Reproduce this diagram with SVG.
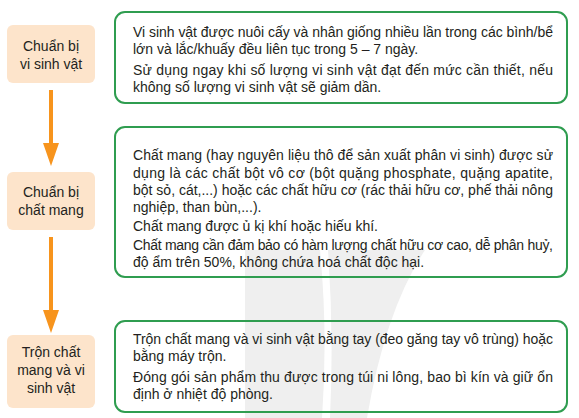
<svg xmlns="http://www.w3.org/2000/svg" width="579" height="418" viewBox="0 0 579 418">
<defs>
<style>
.step{fill:#fde4cb;}
.stept{font-family:"Liberation Sans",Arial,sans-serif;font-size:14px;fill:#231f20;text-anchor:middle;}
.card{fill:none;stroke:#2f9d50;stroke-width:2;}
.body{font-family:"Liberation Sans",Arial,sans-serif;font-size:14px;fill:#231f20;}
.arr{stroke:#f7941d;stroke-width:4;fill:none;}
.head{fill:#f7941d;}
.wm{fill:#efefef;}
</style>
</defs>
<rect width="579" height="418" fill="#ffffff"/>
<g id="watermark">
<path class="wm" d="M245,250 L320,250 Q328,333 322,418 L245,418 Z"/>
<path class="wm" d="M328,250 L425,250 Q385,311 367,418 L330,418 Q334,333 328,250 Z"/>
</g>
<g id="connectors">
<line class="arr" x1="51" y1="90" x2="51" y2="145"/>
<polygon class="head" points="43,143 59,143 51,166"/>
<line class="arr" x1="51" y1="237" x2="51" y2="312"/>
<polygon class="head" points="43,310 59,310 51,333"/>
</g>
<g id="step1">
<rect class="step" x="7" y="25" width="88" height="58" rx="6"/>
<text class="stept" x="51" y="51">Chuẩn bị</text>
<text class="stept" x="51" y="69">vi sinh vật</text>
</g>
<g id="step2">
<rect class="step" x="7" y="172" width="88" height="58" rx="6"/>
<text class="stept" x="51" y="197">Chuẩn bị</text>
<text class="stept" x="51" y="215">chất mang</text>
</g>
<g id="step3">
<rect class="step" x="7" y="335" width="88" height="73" rx="6"/>
<text class="stept" x="51" y="357">Trộn chất</text>
<text class="stept" x="51" y="375">mang và vi</text>
<text class="stept" x="51" y="393">sinh vật</text>
</g>
<g id="card1">
<rect class="card" x="115" y="12" width="452" height="91" rx="10"/>
<text class="body" x="133" y="37" textLength="420" lengthAdjust="spacing">Vi sinh vật được nuôi cấy và nhân giống nhiều lần trong các bình/bể</text>
<text class="body" x="133" y="54">lớn và lắc/khuấy đều liên tục trong 5 – 7 ngày.</text>
<text class="body" x="133" y="75" textLength="420" lengthAdjust="spacing">Sử dụng ngay khi số lượng vi sinh vật đạt đến mức cần thiết, nếu</text>
<text class="body" x="133" y="92">không số lượng vi sinh vật sẽ giảm dần.</text>
</g>
<g id="card2">
<rect class="card" x="115" y="127" width="452" height="150" rx="10"/>
<text class="body" x="133" y="160" textLength="420" lengthAdjust="spacing">Chất mang (hay nguyên liệu thô để sản xuất phân vi sinh) được sử</text>
<text class="body" x="133" y="178" textLength="420" lengthAdjust="spacing">dụng là các chất bột vô cơ (bột quặng phosphate, quặng apatite,</text>
<text class="body" x="133" y="195" textLength="420" lengthAdjust="spacing">bột sỏ, cát,...) hoặc các chất hữu cơ (rác thải hữu cơ, phế thải nông</text>
<text class="body" x="133" y="212">nghiệp, than bùn,...).</text>
<text class="body" x="133" y="231">Chất mang được ủ kị khí hoặc hiếu khí.</text>
<text class="body" x="133" y="250" textLength="420" lengthAdjust="spacing">Chất mang cần đảm bảo có hàm lượng chất hữu cơ cao, dễ phân huỷ,</text>
<text class="body" x="133" y="267">độ ẩm trên 50%, không chứa hoá chất độc hại.</text>
</g>
<g id="card3">
<rect class="card" x="115" y="321" width="452" height="91" rx="10"/>
<text class="body" x="133" y="344" textLength="420" lengthAdjust="spacing">Trộn chất mang và vi sinh vật bằng tay (đeo găng tay vô trùng) hoặc</text>
<text class="body" x="133" y="361">bằng máy trộn.</text>
<text class="body" x="133" y="382" textLength="420" lengthAdjust="spacing">Đóng gói sản phẩm thu được trong túi ni lông, bao bì kín và giữ ổn</text>
<text class="body" x="133" y="399">định ở nhiệt độ phòng.</text>
</g>
</svg>
